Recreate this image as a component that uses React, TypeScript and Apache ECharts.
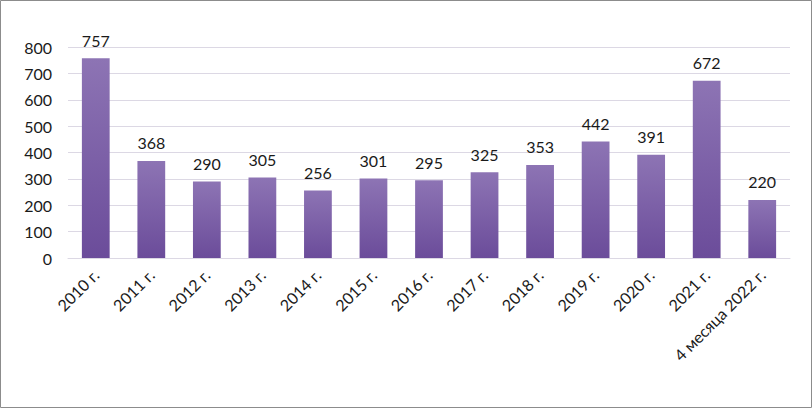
import React, { useEffect, useRef } from "react";
import * as echarts from "echarts";

const categories = ["2010 г.", "2011 г.", "2012 г.", "2013 г.", "2014 г.", "2015 г.", "2016 г.", "2017 г.", "2018 г.", "2019 г.", "2020 г.", "2021 г.", "4 месяца 2022 г."];
const values = [757, 368, 290, 305, 256, 301, 295, 325, 353, 442, 391, 672, 220];

export default function App() {
  const ref = useRef<HTMLDivElement>(null);
  useEffect(() => {
    document.body.style.margin = "0";
    const chart = echarts.init(ref.current!, null, { renderer: "svg" });
    chart.setOption({
      animation: false,
      backgroundColor: "#ffffff",
      textStyle: { fontFamily: "Lato, 'Open Sans', sans-serif" },
      graphic: [
        {
          type: "rect",
          shape: { x: 0.5, y: 0.5, width: 811, height: 407 },
          style: { fill: "none", stroke: "#8c8c8c", lineWidth: 1 },
          silent: true,
        },
      ],
      grid: { left: 68, right: 22, top: 47, bottom: 150, containLabel: false },
      xAxis: {
        type: "category",
        data: categories,
        axisLine: { show: true, lineStyle: { color: "#dcd8e4", width: 1 } },
        axisTick: { show: false },
        axisLabel: {
          rotate: 45,
          interval: 0,
          fontSize: 16,
          color: "#1a1a1a",
          margin: 14,
          fontFamily: "Lato, 'Open Sans', sans-serif",
        },
      },
      yAxis: {
        type: "value",
        min: 0,
        max: 800,
        interval: 100,
        axisLine: { show: false },
        axisTick: { show: false },
        splitLine: { lineStyle: { color: "#dcd8e4", width: 1 } },
        axisLabel: { fontSize: 16, color: "#1a1a1a", margin: 16, fontFamily: "Lato, 'Open Sans', sans-serif" },
      },
      series: [
        {
          type: "bar",
          data: values,
          barWidth: "50%",
          itemStyle: {
            color: new echarts.graphic.LinearGradient(0, 0, 0, 1, [
              { offset: 0, color: "#8d74b4" },
              { offset: 1, color: "#6b4c9a" },
            ]),
          },
          label: {
            show: true,
            position: "top",
            distance: 10,
            fontSize: 16,
            color: "#1a1a1a",
            fontFamily: "Lato, 'Open Sans', sans-serif",
          },
        },
      ],
    });
    return () => chart.dispose();
  }, []);
  return <div ref={ref} style={{ width: 812, height: 408 }} />;
}
